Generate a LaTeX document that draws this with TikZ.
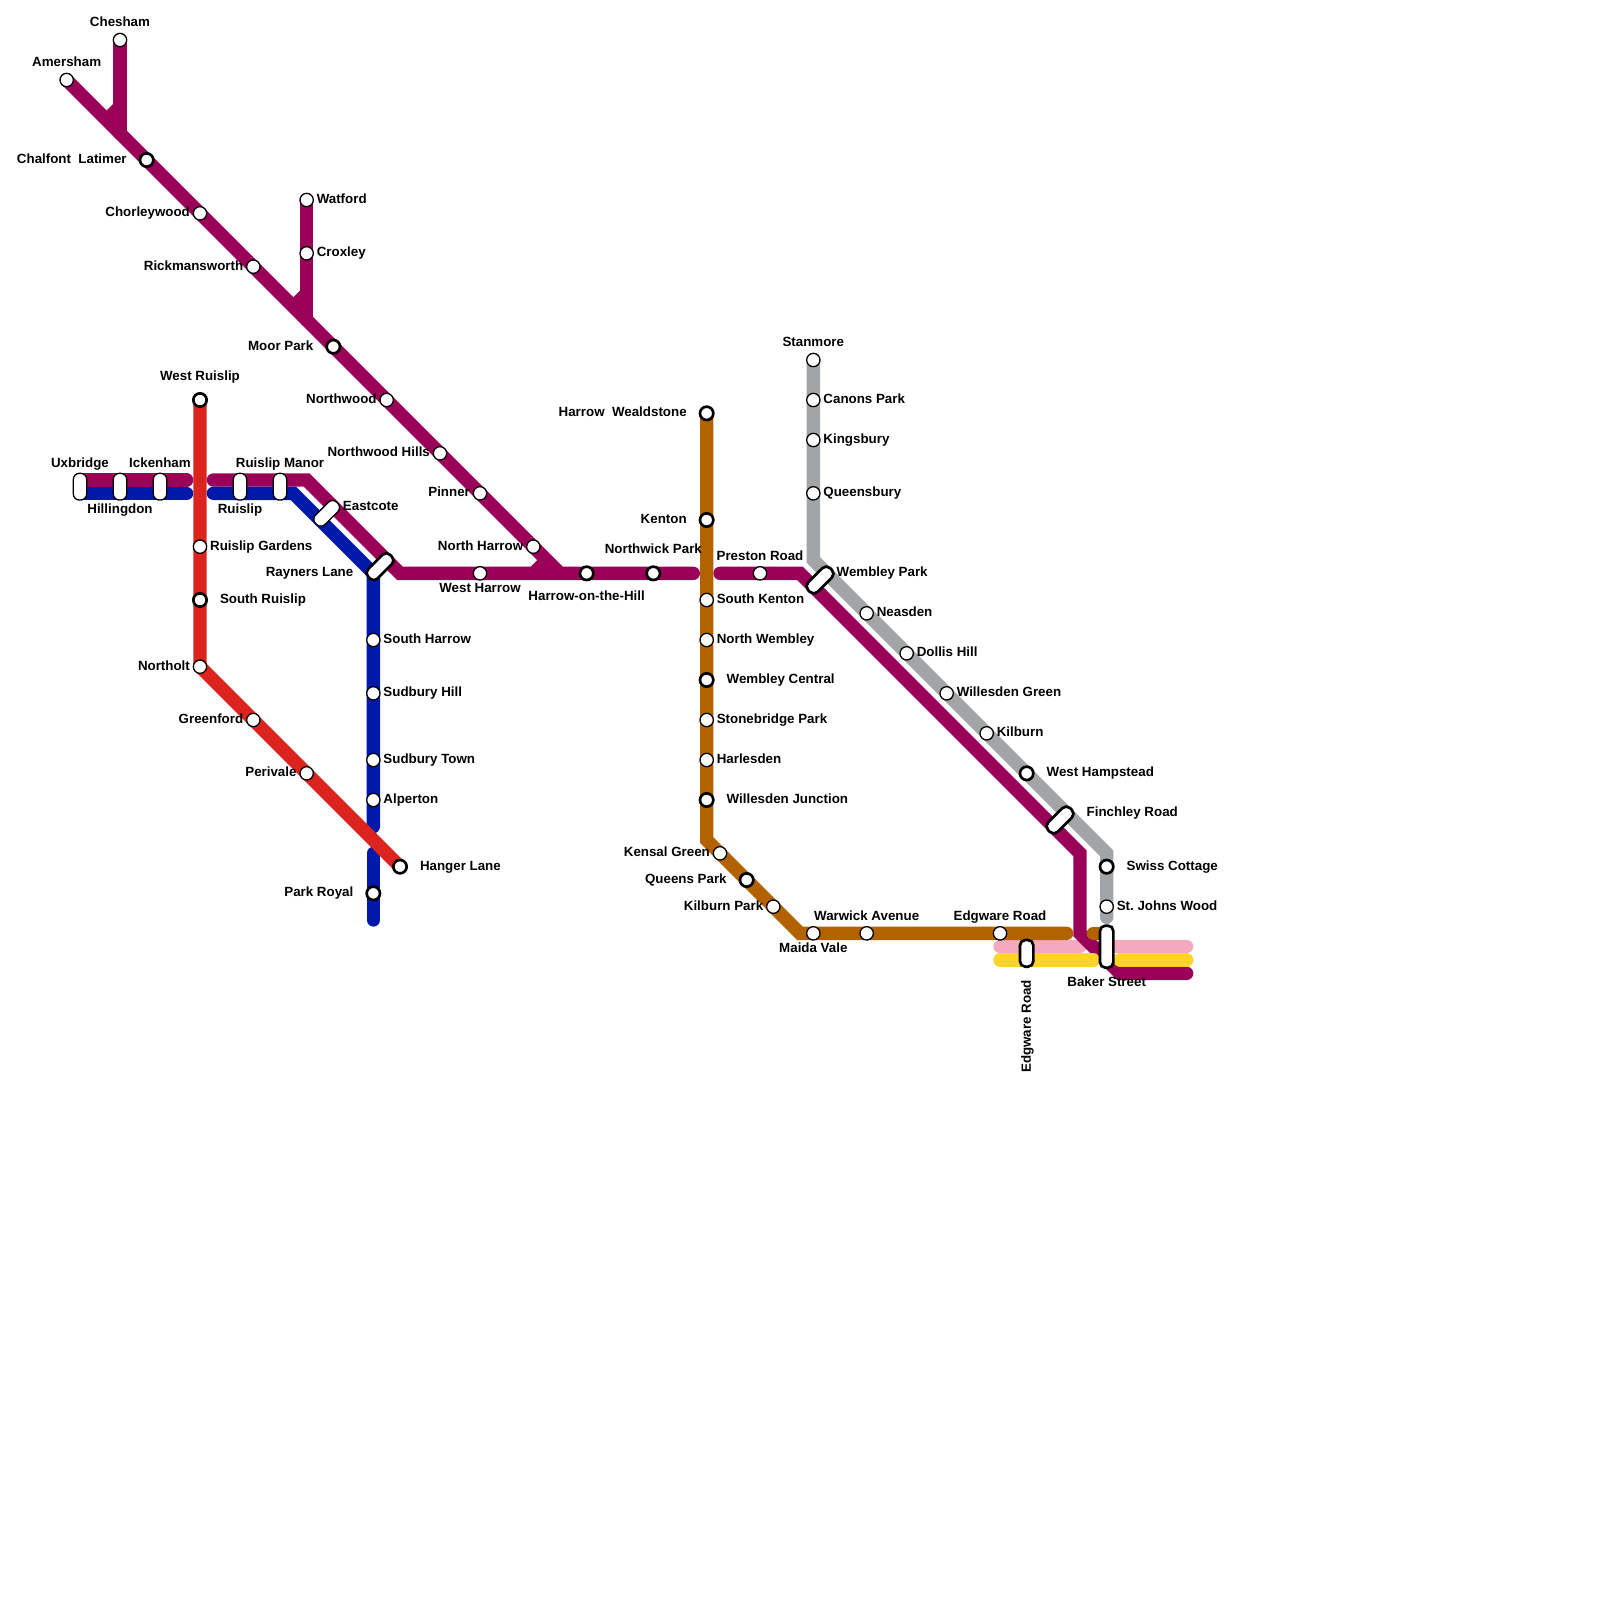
\documentclass[tikz,border=0pt]{standalone}
\usepackage{fontspec}
\setmainfont{Liberation Sans}
\usepackage{tikz}
\usetikzlibrary{positioning,backgrounds}
\usepackage{xcolor}
\definecolor{metro}{HTML}{9B0058}
\definecolor{central}{HTML}{DC241F}
\definecolor{picc}{HTML}{0019A8}
\definecolor{bakerloo}{HTML}{B26300}
\definecolor{jubilee}{HTML}{A1A5A7}
\definecolor{hammer}{HTML}{F4A9BE}
\definecolor{circleline}{HTML}{FFD329}

\begin{document}
\begin{tikzpicture}[
  x=6.6667pt, y=-6.6667pt,
  font=\fontsize{6.67pt}{8pt}\selectfont\bfseries,
  st/.style={draw, circle, fill=white, inner sep=0pt, line width=0.65pt, minimum size=6.67pt},
  ic/.style={draw, circle, fill=white, inner sep=0pt, line width=1.33pt, minimum size=6.67pt},
  slot/.style={draw, fill=white, inner sep=0pt, line width=0.65pt, rounded corners=3pt, minimum width=6.67pt, minimum height=13.33pt},
  icslot/.style={draw, fill=white, inner sep=0pt, line width=1.33pt, rounded corners=2.66pt, minimum width=6.67pt, minimum height=15.5pt},
  lbl/.style={inner sep=0pt, outer sep=0pt, text height=4.8pt, text depth=1.3pt},
  tube/.style={line width=6.67pt, line cap=round},
  stub/.style={line width=6.67pt},
]
\useasboundingbox (0,0) rectangle (120,120);

% Metropolitan main
\node[st] (amersham) at (5,6) {};
\node[lbl, above=1.7pt of amersham] (lamersham) {Amersham};
\node[st] (chesham) at (9,3) {};
\node[lbl, above=1.7pt of chesham] (lchesham) {Chesham};
\node[ic] (chalfont) at (11,12) {};
\node[lbl, left=6pt of chalfont] (lchalfont) {Chalfont\ \ Latimer};
\node[st] (chorleywood) at (15,16) {};
\node[lbl, left=1.4pt of chorleywood] (lchorleywood) {Chorleywood};
\node[st] (rickmansworth) at (19,20) {};
\node[lbl, left=1.4pt of rickmansworth] (lrickmansworth) {Rickmansworth};
\node[st] (watford) at (23,15) {};
\node[lbl, right=1.4pt of watford] (lwatford) {Watford};
\node[st] (croxley) at (23,19) {};
\node[lbl, right=1.4pt of croxley] (lcroxley) {Croxley};
\node[ic] (moorpark) at (25,26) {};
\node[lbl, left=6pt of moorpark] (lmoorpark) {Moor Park};
\node[st] (northwood) at (29,30) {};
\node[lbl, left=1.4pt of northwood] (lnorthwood) {Northwood};
\node[st] (nwhills) at (33,34) {};
\node[lbl, left=1.4pt of nwhills] (lnwhills) {Northwood Hills};
\node[st] (pinner) at (36,37) {};
\node[lbl, left=1.4pt of pinner] (lpinner) {Pinner};
\node[st] (nharrow) at (40,41) {};
\node[lbl, left=1.4pt of nharrow] (lnharrow) {North Harrow};
\node[st] (wharrow) at (36,43) {};
\node[lbl, below=1.2pt of wharrow] (lwharrow) {West Harrow};
\node[ic] (harrow) at (44,43) {};
\node[lbl, below=4.6pt of harrow] (lharrow) {Harrow-on-the-Hill};
\node[ic] (northwick) at (49,43) {};
\node[lbl, above=4.8pt of northwick] (lnorthwick) {Northwick Park};
\node[st] (preston) at (57,43) {};
\node[lbl, above=1.4pt of preston] (lpreston) {Preston Road};

% Uxbridge branch
\node[slot] (uxbridge) at (6,36.5) {};
\node[lbl, above=1.4pt of uxbridge] (luxbridge) {Uxbridge};
\node[slot] (hillingdon) at (9,36.5) {};
\node[lbl, below=1.6pt of hillingdon] (lhillingdon) {Hillingdon};
\node[slot] (ickenham) at (12,36.5) {};
\node[lbl, above=1.4pt of ickenham] (lickenham) {Ickenham};
\node[slot] (ruislip) at (18,36.5) {};
\node[lbl, below=1.6pt of ruislip] (lruislip) {Ruislip};
\node[slot] (manor) at (21,36.5) {};
\node[lbl, above=1.4pt of manor] (lmanor) {Ruislip Manor};
\node[slot, minimum height=15pt, rotate=-45] (eastcote) at (24.5,38.5) {};
\node[lbl, anchor=west] (leastcote) at (25.72,38) {Eastcote};
\node[icslot, rotate=-45] (rayners) at (28.5,42.5) {};
\node[lbl, anchor=east] (lrayners) at (26.5,43) {Rayners Lane};

% Piccadilly south
\node[st] (sharrow) at (28,48) {};
\node[lbl, right=1.4pt of sharrow] (lsharrow) {South Harrow};
\node[st] (shill) at (28,52) {};
\node[lbl, right=1.4pt of shill] (lshill) {Sudbury Hill};
\node[st] (stown) at (28,57) {};
\node[lbl, right=1.4pt of stown] (lstown) {Sudbury Town};
\node[st] (alperton) at (28,60) {};
\node[lbl, right=1.4pt of alperton] (lalperton) {Alperton};
\node[ic] (parkroyal) at (28,67) {};
\node[lbl, left=6pt of parkroyal] (lparkroyal) {Park Royal};

% Central
\node[ic] (wruislip) at (15,30) {};
\node[lbl, above=4.5pt of wruislip] (lwruislip) {West Ruislip};
\node[st] (rgardens) at (15,41) {};
\node[lbl, right=1.4pt of rgardens] (lrgardens) {Ruislip Gardens};
\node[ic] (sruislip) at (15,45) {};
\node[lbl, right=6pt of sruislip] (lsruislip) {South Ruislip};
\node[st] (northolt) at (15,50) {};
\node[lbl, left=1.4pt of northolt] (lnortholt) {Northolt};
\node[st] (greenford) at (19,54) {};
\node[lbl, left=1.4pt of greenford] (lgreenford) {Greenford};
\node[st] (perivale) at (23,58) {};
\node[lbl, left=1.4pt of perivale] (lperivale) {Perivale};
\node[ic] (hanger) at (30,65) {};
\node[lbl, right=6pt of hanger] (lhanger) {Hanger Lane};

% Bakerloo
\node[ic] (wealdstone) at (53,31) {};
\node[lbl, left=6pt of wealdstone] (lwealdstone) {Harrow\ \ Wealdstone};
\node[ic] (kenton) at (53,39) {};
\node[lbl, left=6pt of kenton] (lkenton) {Kenton};
\node[st] (skenton) at (53,45) {};
\node[lbl, right=1.4pt of skenton] (lskenton) {South Kenton};
\node[st] (nwembley) at (53,48) {};
\node[lbl, right=1.4pt of nwembley] (lnwembley) {North Wembley};
\node[ic] (wcentral) at (53,51) {};
\node[lbl, right=6pt of wcentral] (lwcentral) {Wembley Central};
\node[st] (stonebridge) at (53,54) {};
\node[lbl, right=1.4pt of stonebridge] (lstonebridge) {Stonebridge Park};
\node[st] (harlesden) at (53,57) {};
\node[lbl, right=1.4pt of harlesden] (lharlesden) {Harlesden};
\node[ic] (willesden) at (53,60) {};
\node[lbl, right=6pt of willesden] (lwillesden) {Willesden Junction};
\node[st] (kensal) at (54,64) {};
\node[lbl, left=1.4pt of kensal] (lkensal) {Kensal Green};
\node[ic] (queens) at (56,66) {};
\node[lbl, left=6pt of queens] (lqueens) {Queens Park};
\node[st] (kilburnpk) at (58,68) {};
\node[lbl, left=1.4pt of kilburnpk] (lkilburnpk) {Kilburn Park};
\node[st] (maida) at (61,70) {};
\node[lbl, below=1.2pt of maida] (lmaida) {Maida Vale};
\node[st] (warwick) at (65,70) {};
\node[lbl, above=1.4pt of warwick] (lwarwick) {Warwick Avenue};
\node[st] (edgware) at (75,70) {};
\node[lbl, above=1.4pt of edgware] (ledgware) {Edgware Road};

% Jubilee
\node[st] (stanmore) at (61,27) {};
\node[lbl, above=1.7pt of stanmore] (lstanmore) {Stanmore};
\node[st] (canons) at (61,30) {};
\node[lbl, right=1.4pt of canons] (lcanons) {Canons Park};
\node[st] (kingsbury) at (61,33) {};
\node[lbl, right=1.4pt of kingsbury] (lkingsbury) {Kingsbury};
\node[st] (queensbury) at (61,37) {};
\node[lbl, right=1.4pt of queensbury] (lqueensbury) {Queensbury};
\node[icslot, rotate=-45] (wembley) at (61.5,43.5) {};
\node[lbl, anchor=west] (lwembley) at (62.75,43) {Wembley Park};
\node[st] (neasden) at (65,46) {};
\node[lbl, right=1.4pt of neasden] (lneasden) {Neasden};
\node[st] (dollis) at (68,49) {};
\node[lbl, right=1.4pt of dollis] (ldollis) {Dollis Hill};
\node[st] (wgreen) at (71,52) {};
\node[lbl, right=1.4pt of wgreen] (lwgreen) {Willesden Green};
\node[st] (kilburn) at (74,55) {};
\node[lbl, right=1.4pt of kilburn] (lkilburn) {Kilburn};
\node[ic] (whampstead) at (77,58) {};
\node[lbl, right=6pt of whampstead] (lwhampstead) {West Hampstead};
\node[icslot, rotate=-45] (finchley) at (79.5,61.5) {};
\node[lbl, anchor=west] (lfinchley) at (81.5,61) {Finchley Road};
\node[ic] (swiss) at (83,65) {};
\node[lbl, right=6pt of swiss] (lswiss) {Swiss Cottage};
\node[st] (stjohns) at (83,68) {};
\node[lbl, right=1.4pt of stjohns] (lstjohns) {St.\ Johns Wood};

% interchange at the bottom
\node[icslot, minimum height=21pt] (baker) at (83,71) {};
\node[lbl, below=3.8pt of baker] (lbaker) {Baker Street};
\node[icslot, minimum height=13.33pt] (edgwarerd) at (77,71.5) {};
\node[lbl, rotate=90, anchor=east] (ledgwarerd) at (77.05,73.5) {Edgware Road};

% bends and line ends
\coordinate (cheshamjoin) at (9,10);
\coordinate (cheshamstub) at (9,8);
\coordinate (cheshamfoot) at (8,9);
\coordinate (watfordjoin) at (23,24);
\coordinate (watfordstub) at (23,22);
\coordinate (watfordfoot) at (22,23);
\coordinate (harrowjoin) at (42,43);
\coordinate (harrowstub) at (40,43);
\coordinate (harrowfoot) at (41,42);
\coordinate (metroA) at (6,36);
\coordinate (metroB) at (14,36);
\coordinate (metroC) at (16,36);
\coordinate (metroD) at (23,36);
\coordinate (metroE) at (30,43);
\coordinate (metroF) at (52,43);
\coordinate (metroG) at (54,43);
\coordinate (metroH) at (60,43);
\coordinate (metroI) at (81,64);
\coordinate (metroJ) at (81,70);
\coordinate (metroK) at (84,73);
\coordinate (metroL) at (89,73);
\coordinate (piccA) at (6,37);
\coordinate (piccB) at (14,37);
\coordinate (piccC) at (16,37);
\coordinate (piccD) at (22,37);
\coordinate (piccE) at (28,43);
\coordinate (piccF) at (28,62);
\coordinate (piccG) at (28,64);
\coordinate (piccH) at (28,69);
\coordinate (bakerA) at (53,63);
\coordinate (bakerB) at (60,70);
\coordinate (bakerC) at (80,70);
\coordinate (bakerD) at (82,70);
\coordinate (bakerE) at (83,70);
\coordinate (jubA) at (61,42);
\coordinate (jubB) at (83,64);
\coordinate (jubC) at (83,68.8);
\coordinate (hamA) at (75,71);
\coordinate (hamB) at (81,71);
\coordinate (hamC) at (83.5,71);
\coordinate (hamD) at (89,71);
\coordinate (circA) at (75,72);
\coordinate (circB) at (82,72);
\coordinate (circC) at (84,72);
\coordinate (circD) at (89,72);

% lines go under the stations
\begin{scope}[on background layer]
\draw[tube, hammer] (hamA) -- (hamB);
\draw[tube, hammer] (hamC) -- (hamD);
\draw[tube, metro] (amersham.center) -- (cheshamjoin) -- (chalfont.center) -- (chorleywood.center) -- (rickmansworth.center) -- (watfordjoin) -- (moorpark.center) -- (northwood.center) -- (nwhills.center) -- (pinner.center) -- (nharrow.center) -- (harrowjoin);
\draw[tube, metro] (chesham.center) -- (cheshamjoin);
\draw[stub, metro] (cheshamstub) -- (cheshamfoot);
\draw[tube, metro] (watford.center) -- (croxley.center) -- (watfordjoin);
\draw[stub, metro] (watfordstub) -- (watfordfoot);
\draw[stub, metro] (harrowstub) -- (harrowfoot);
\draw[tube, metro] (metroA) -- (metroB);
\draw[tube, metro] (metroC) -- (metroD) -- (metroE) -- (wharrow.center) -- (harrowjoin) -- (harrow.center) -- (northwick.center) -- (metroF);
\draw[tube, metro] (metroG) -- (preston.center) -- (metroH) -- (metroI) -- (metroJ) -- (metroK) -- (metroL);
\draw[tube, circleline] (circA) -- (circB);
\draw[tube, circleline] (circC) -- (circD);
\draw[tube, bakerloo] (wealdstone.center) -- (kenton.center) -- (skenton.center) -- (nwembley.center) -- (wcentral.center) -- (stonebridge.center) -- (harlesden.center) -- (willesden.center) -- (bakerA) -- (kensal.center) -- (queens.center) -- (kilburnpk.center) -- (bakerB) -- (maida.center) -- (warwick.center) -- (edgware.center) -- (bakerC);
\draw[tube, bakerloo] (bakerD) -- (bakerE);
\draw[tube, jubilee] (stanmore.center) -- (canons.center) -- (kingsbury.center) -- (queensbury.center) -- (jubA) -- (neasden.center) -- (dollis.center) -- (wgreen.center) -- (kilburn.center) -- (whampstead.center) -- (jubB) -- (swiss.center) -- (stjohns.center) -- (jubC);
\draw[tube, picc] (piccA) -- (piccB);
\draw[tube, picc] (piccC) -- (piccD) -- (piccE) -- (sharrow.center) -- (shill.center) -- (stown.center) -- (alperton.center) -- (piccF);
\draw[tube, picc] (piccG) -- (parkroyal.center) -- (piccH);
\draw[tube, central] (wruislip.center) -- (rgardens.center) -- (sruislip.center) -- (northolt.center) -- (greenford.center) -- (perivale.center) -- (hanger.center);
\end{scope}
\end{tikzpicture}
\end{document}
